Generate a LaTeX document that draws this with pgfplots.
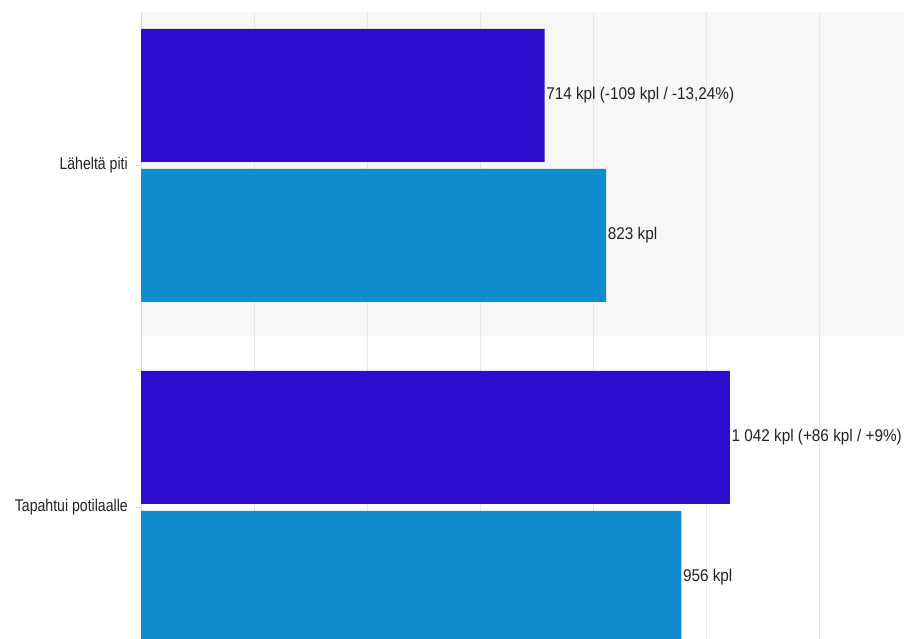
\documentclass[border=0pt]{standalone}
\usepackage{pgfplots}
\pgfplotsset{compat=1.18}
\usepackage{fontspec}
\setmainfont{Liberation Sans}
\newfontfamily\labfont{Liberation Sans}[FakeStretch=0.83]
\newfontfamily\datfont{Liberation Sans}[FakeStretch=0.9]
\definecolor{darkbar}{RGB}{45,12,206}
\definecolor{lightbar}{RGB}{14,142,207}
\definecolor{band}{RGB}{247,247,247}
\definecolor{gridc}{RGB}{230,230,230}
\definecolor{axc}{RGB}{216,216,216}
\definecolor{txt}{RGB}{34,34,34}
\begin{document}
\begin{tikzpicture}[x=1pt,y=1pt]
\begin{axis}[
  set layers,
  at={(141pt,0pt)}, anchor=south west,
  scale only axis, width=763pt, height=627pt,
  xmin=0, xmax=1350,
  ymin=12, ymax=639, y dir=reverse,
  xbar, bar width=133,
  xtick={0,200,...,1200}, xticklabels={},
  xtick style={draw=none},
  xmajorgrids, major grid style={draw=gridc, line width=1pt},
  ytick={165.5,507.5},
  yticklabels={Läheltä piti, Tapahtui potilaalle},
  ytick style={draw=axc, line width=0.8pt},
  tick align=outside, major tick length=5pt,
  yticklabel style={font=\labfont\fontsize{17}{20}\selectfont, text=txt, inner sep=0pt, xshift=-8pt},
  axis lines*=left,
  x axis line style={draw=none},
  y axis line style={-, draw=axc, line width=1pt},
  clip=true,
  nodes near coords,
  point meta=explicit symbolic,
  every node near coord/.append style={anchor=west, inner sep=0pt, xshift=1.5pt,
     font=\datfont\fontsize{17}{20}\selectfont, text=txt},
]
\pgfonlayer{axis background}
\fill[band] (axis cs:0,12) rectangle (axis cs:1350,336.5);
\endpgfonlayer
\addplot[draw=none, fill=darkbar, bar shift=0pt] coordinates {
  (714,95.5) [714 kpl (-109 kpl / -13,24\%)]
  (1042,437.5) [1 042 kpl (+86 kpl / +9\%)]
};
\addplot[draw=none, fill=lightbar, bar shift=0pt] coordinates {
  (823,235.5) [823 kpl]
  (956,577.5) [956 kpl]
};
\end{axis}
\pgfresetboundingbox
\path (0,0) rectangle (904,639);
\end{tikzpicture}
\end{document}
